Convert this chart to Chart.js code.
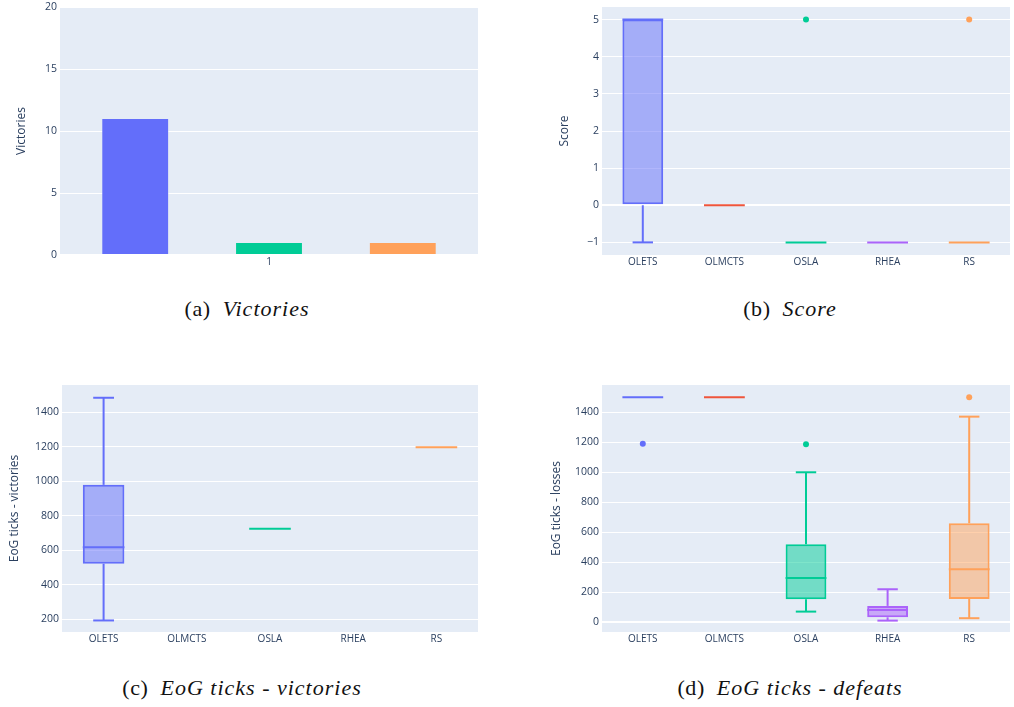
<!DOCTYPE html>
<html>
<head>
<meta charset="utf-8">
<script src="https://cdn.jsdelivr.net/npm/chart.js@4.4.1/dist/chart.umd.min.js"></script>
<style>
    body { margin: 0; background: #fff; width: 1014px; height: 707px; position: relative; overflow: hidden; }
    .panel { position: absolute; }
    .caption {
        position: absolute;
        width: 400px;
        text-align: center;
        font-family: "Liberation Serif", "DejaVu Serif", serif;
        font-size: 22px;
        letter-spacing: 0.6px;
        color: #111;
        white-space: nowrap;
    }
    .caption i { margin-left: 12px; letter-spacing: 1px; }
</style>
</head>
<body>
<div class="panel" style="left:0;top:0;width:480px;height:275px"><canvas id="chart-victories"></canvas></div>
<div class="panel" style="left:540px;top:0;width:474px;height:275px"><canvas id="chart-score"></canvas></div>
<div class="panel" style="left:0;top:378px;width:480px;height:274px"><canvas id="chart-eog-victories"></canvas></div>
<div class="panel" style="left:540px;top:378px;width:474px;height:274px"><canvas id="chart-eog-losses"></canvas></div>

<div class="caption" style="left:47px;top:296px">(a)<i>Victories</i></div>
<div class="caption" style="left:590px;top:296px">(b)<i>Score</i></div>
<div class="caption" style="left:42px;top:675px">(c)<i>EoG ticks - victories</i></div>
<div class="caption" style="left:590px;top:675px">(d)<i>EoG ticks - defeats</i></div>

<script>
const algorithms = ["OLETS", "OLMCTS", "OSLA", "RHEA", "RS"];
const algoColors = ["#636EFA", "#EF553B", "#00CC96", "#AB63FA", "#FFA15A"];
const algoFills = [
    "rgba(99, 110, 250, 0.5)",
    "rgba(239, 85, 59, 0.5)",
    "rgba(0, 204, 150, 0.5)",
    "rgba(171, 99, 250, 0.5)",
    "rgba(255, 161, 90, 0.5)",
];

// (a) victories bar chart
const victoryCategories = ["1"];
const victoryCounts = [11, 1, 1];
const victoryColors = ["#636EFA", "#00CC96", "#FFA15A"];
const victoryTicks = [0, 5, 10, 15, 20];

// (b) score: whisker low, q1, median, q3, whisker high
const scoreLow = [-1, 0, -1, -1, -1];
const scoreQ1 = [0, 0, -1, -1, -1];
const scoreMedian = [5, 0, -1, -1, -1];
const scoreQ3 = [5, 0, -1, -1, -1];
const scoreHigh = [5, 0, -1, -1, -1];
const scoreOutliers = [["OSLA", 5], ["RS", 5]];
const scoreTicks = [-1, 0, 1, 2, 3, 4, 5];

// (c) end-of-game ticks for victories
const eogVicLow = [193, null, 725, null, 1197];
const eogVicQ1 = [522, null, 725, null, 1197];
const eogVicMedian = [617, null, 725, null, 1197];
const eogVicQ3 = [979, null, 725, null, 1197];
const eogVicHigh = [1484, null, 725, null, 1197];
const eogVicOutliers = [];
const eogVicTicks = [200, 400, 600, 800, 1000, 1200, 1400];

// (d) end-of-game ticks for losses
const eogLossLow = [1500, 1500, 71, 11, 27];
const eogLossQ1 = [1500, 1500, 153, 33, 155];
const eogLossMedian = [1500, 1500, 295, 82, 353];
const eogLossQ3 = [1500, 1500, 520, 109, 660];
const eogLossHigh = [1500, 1500, 1000, 220, 1371];
const eogLossOutliers = [["OLETS", 1191], ["OSLA", 1187], ["RS", 1500]];
const eogLossTicks = [0, 200, 400, 600, 800, 1000, 1200, 1400];

const TICK_COLOR = "#2a3f5f";
const yTickFont = { family: "'Open Sans', sans-serif", size: 10.5 };
const xTickFont = { family: "'Open Sans', sans-serif", size: 10 };
const titleFont = { family: "'Open Sans', sans-serif", size: 12 };

const plotBackground = {
    id: "plotBackground",
    beforeDraw(chart) {
        const { ctx, chartArea } = chart;
        ctx.save();
        ctx.fillStyle = "#E5ECF6";
        ctx.fillRect(chartArea.left, chartArea.top, chartArea.right - chartArea.left, chartArea.bottom - chartArea.top);
        ctx.restore();
    },
};

// whiskers, medians and caps on top of the floating bars
const boxWhiskers = {
    id: "boxWhiskers",
    afterDatasetsDraw(chart) {
        const stats = chart.options.plugins.boxWhiskers;
        if (!stats || !stats.median) {
            return;
        }
        const { ctx } = chart;
        const x = chart.scales.x;
        const y = chart.scales.y;
        const bars = chart.getDatasetMeta(0).data;
        ctx.save();
        ctx.lineWidth = 2;
        const line = (x1, y1, x2, y2) => {
            ctx.beginPath();
            ctx.moveTo(x1, y1);
            ctx.lineTo(x2, y2);
            ctx.stroke();
        };
        stats.median.forEach((median, i) => {
            if (median === null) {
                return;
            }
            const cx = x.getPixelForValue(i);
            const half = bars[i] ? bars[i].width / 2 : 20;
            ctx.strokeStyle = algoColors[i];
            const yq1 = y.getPixelForValue(stats.q1[i]);
            const yq3 = y.getPixelForValue(stats.q3[i]);
            const ylo = y.getPixelForValue(stats.low[i]);
            const yhi = y.getPixelForValue(stats.high[i]);
            if (stats.low[i] < stats.q1[i]) {
                line(cx, yq1, cx, ylo);
                line(cx - half / 2, ylo, cx + half / 2, ylo);
            }
            if (stats.high[i] > stats.q3[i]) {
                line(cx, yq3, cx, yhi);
                line(cx - half / 2, yhi, cx + half / 2, yhi);
            }
            line(cx - half, y.getPixelForValue(median), cx + half, y.getPixelForValue(median));
        });
        ctx.restore();
    },
};

const minusSign = (v) => String(v).replace("-", "\u2212");

function yAxis(title, min, max, tickValues, width, titlePad) {
    return {
        min: min,
        max: max,
        afterBuildTicks: (scale) => {
            scale.ticks = tickValues.map((v) => ({ value: v }));
        },
        afterFit: (scale) => {
            scale.width = width;
            scale.paddingTop = 0;
            scale.paddingBottom = 0;
        },
        border: { display: false },
        grid: {
            color: "#ffffff",
            lineWidth: (c) => (c.tick && c.tick.value === 0 ? 2 : 1),
            drawTicks: false,
        },
        ticks: {
            color: TICK_COLOR,
            font: yTickFont,
            padding: 3,
            callback: (v) => minusSign(v),
        },
        title: {
            display: true,
            text: title,
            color: TICK_COLOR,
            font: titleFont,
            padding: { top: titlePad, bottom: 0 },
        },
    };
}

function xAxis(labels) {
    return {
        type: "category",
        labels: labels,
        offset: true,
        afterFit: (scale) => {
            scale.height = 20;
            scale.paddingLeft = 0;
            scale.paddingRight = 0;
        },
        border: { display: false },
        grid: { display: false, drawTicks: false },
        ticks: { color: TICK_COLOR, font: xTickFont, padding: 1, maxRotation: 0 },
    };
}

function boxChart(canvasId, title, yMin, yMax, tickValues, titlePad, low, q1, median, q3, high, outliers, padRight) {
    return new Chart(document.getElementById(canvasId), {
        data: {
            labels: algorithms,
            datasets: [
                {
                    type: "bar",
                    data: q1.map((v, i) => (v === null ? null : [v, q3[i]])),
                    backgroundColor: algoFills,
                    borderColor: algoColors,
                    borderWidth: 2,
                    borderSkipped: false,
                    categoryPercentage: 1,
                    barPercentage: 0.5,
                },
                {
                    type: "line",
                    data: outliers.map((o) => ({ x: o[0], y: o[1] })),
                    showLine: false,
                    pointRadius: 3,
                    pointBorderWidth: 0,
                    pointBackgroundColor: outliers.map((o) => algoColors[algorithms.indexOf(o[0])]),
                },
            ],
        },
        options: {
            responsive: true,
            maintainAspectRatio: false,
            animation: false,
            layout: { padding: { top: 7, right: padRight, left: 0, bottom: 0 } },
            scales: {
                x: xAxis(algorithms),
                y: yAxis(title, yMin, yMax, tickValues, 62, titlePad),
            },
            plugins: {
                legend: { display: false },
                tooltip: { enabled: false },
                boxWhiskers: { low, q1, median, q3, high },
            },
        },
        plugins: [plotBackground, boxWhiskers],
    });
}

new Chart(document.getElementById("chart-victories"), {
    type: "bar",
    data: {
        labels: victoryCategories,
        datasets: victoryCounts.map((count, i) => ({
            data: [count],
            backgroundColor: victoryColors[i],
            borderColor: "rgba(229, 236, 246, 0.9)",
            borderWidth: 0.5,
            categoryPercentage: 0.96,
            barPercentage: 0.5,
        })),
    },
    options: {
        responsive: true,
        maintainAspectRatio: false,
        animation: false,
        layout: { padding: { top: 7, right: 2, left: 0, bottom: 0 } },
        scales: {
            x: xAxis(victoryCategories),
            y: yAxis("Victories", 0, 20, victoryTicks, 60, 14),
        },
        plugins: { legend: { display: false }, tooltip: { enabled: false } },
    },
    plugins: [plotBackground],
});

boxChart("chart-score", "Score", -1.34, 5.34, scoreTicks, 17,
    scoreLow, scoreQ1, scoreMedian, scoreQ3, scoreHigh, scoreOutliers, 0);
boxChart("chart-eog-victories", "EoG ticks - victories", 126, 1558, eogVicTicks, 7,
    eogVicLow, eogVicQ1, eogVicMedian, eogVicQ3, eogVicHigh, eogVicOutliers, 2);
boxChart("chart-eog-losses", "EoG ticks - losses", -65, 1582, eogLossTicks, 9,
    eogLossLow, eogLossQ1, eogLossMedian, eogLossQ3, eogLossHigh, eogLossOutliers, 0);
</script>
</body>
</html>
